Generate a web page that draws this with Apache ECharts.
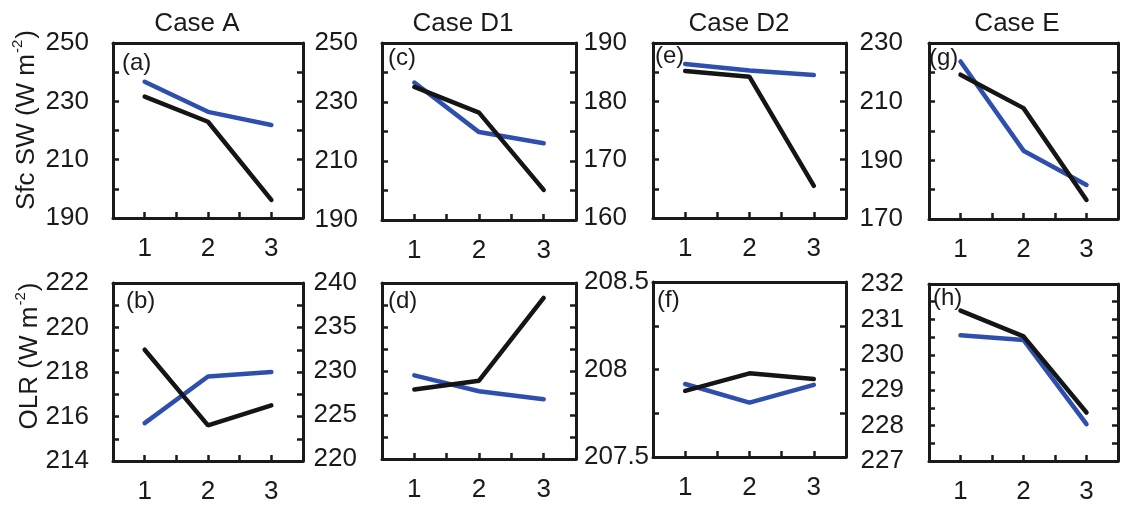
<!DOCTYPE html>
<html>
<head>
<meta charset="utf-8">
<script src="https://cdn.jsdelivr.net/npm/echarts@6/dist/echarts.min.js"></script>
<style>
html,body{margin:0;padding:0;background:#fff;}
#chart{width:1121px;height:505px;}
</style>
</head>
<body>
<div id="chart"></div>
<script>
// ---------- data ----------
const xCats = [1, 2, 3];
const caseTitles = ['Case A', 'Case D1', 'Case D2', 'Case E'];
const panelLabels = ['(a)', '(c)', '(e)', '(g)', '(b)', '(d)', '(f)', '(h)'];
const yTitleTop = 'Sfc SW (W m';
const yTitleBottom = 'OLR (W m';

// Surface SW (top row)
const sfcBlueA  = [236.7, 226.4, 221.9];
const sfcBlackA = [231.6, 223.0, 196.2];
const sfcBlueD1  = [236.6, 219.8, 216.0];
const sfcBlackD1 = [235.1, 226.4, 200.2];
const sfcBlueD2  = [186.4, 185.3, 184.5];
const sfcBlackD2 = [185.2, 184.2, 165.5];
const sfcBlueE  = [223.7, 193.3, 181.6];
const sfcBlackE = [219.2, 207.8, 176.5];

// OLR (bottom row)
const olrBlueA  = [215.7, 217.8, 218.0];
const olrBlackA = [219.0, 215.6, 216.5];
const olrBlueD1  = [229.5, 227.7, 226.8];
const olrBlackD1 = [227.9, 228.9, 238.3];
const olrBlueD2  = [207.917, 207.811, 207.912];
const olrBlackD2 = [207.878, 207.978, 207.946];
const olrBlueE  = [230.55, 230.42, 228.04];
const olrBlackE = [231.25, 230.52, 228.37];

// y-axis ranges: [min, max, tick interval, label step]
const yRangeSfcA  = [190, 250, 10, 20];
const yRangeSfcD1 = [190, 250, 10, 20];
const yRangeSfcD2 = [160, 190, 5, 10];
const yRangeSfcE  = [170, 230, 10, 20];
const yRangeOlrA  = [214, 222, 1, 2];
const yRangeOlrD1 = [220, 240, 2.5, 5];
const yRangeOlrD2 = [207.5, 208.5, 0.25, 0.5];
const yRangeOlrE  = [227, 232, 0.5, 1];

// ---------- layout / style ----------
const FONT = '"Liberation Sans", Arial, sans-serif';
const TXT = '#1a1a1a';
const BLUE = '#2f4fae';
const BLACK = '#151515';

const panels = [
  {g:{left:113, top:43, width:190, height:175}, r:yRangeSfcA,  b:sfcBlueA,  k:sfcBlackA,  lab:panelLabels[0], lx:122, ly:65, m:24, lw:0},
  {g:{left:382, top:43, width:194, height:177}, r:yRangeSfcD1, b:sfcBlueD1, k:sfcBlackD1, lab:panelLabels[1], lx:388, ly:60, m:24, lw:0},
  {g:{left:653, top:43, width:193, height:175}, r:yRangeSfcD2, b:sfcBlueD2, k:sfcBlackD2, lab:panelLabels[2], lx:655, ly:58, m:26, lw:0},
  {g:{left:929, top:43, width:194, height:176}, r:yRangeSfcE,  b:sfcBlueE,  k:sfcBlackE,  lab:panelLabels[3], lx:929, ly:60, m:26, lw:0},
  {g:{left:113, top:283, width:190, height:179}, r:yRangeOlrA,  b:olrBlueA,  k:olrBlackA,  lab:panelLabels[4], lx:126, ly:303, m:24, lw:0},
  {g:{left:382, top:283, width:194, height:176}, r:yRangeOlrD1, b:olrBlueD1, k:olrBlackD1, lab:panelLabels[5], lx:388, ly:303, m:25, lw:0},
  {g:{left:653, top:282, width:193, height:175}, r:yRangeOlrD2, b:olrBlueD2, k:olrBlackD2, lab:panelLabels[6], lx:657, ly:302, m:3, lw:66},
  {g:{left:929, top:284, width:194, height:177}, r:yRangeOlrE,  b:olrBlueE,  k:olrBlackE,  lab:panelLabels[7], lx:933, ly:300, m:25, lw:0}
];

const grids = [], xAxes = [], yAxes = [], series = [], graphics = [];

function fmtNum(v){ return String(Math.round(v * 1000) / 1000); }

panels.forEach((p, i) => {
  grids.push(Object.assign({containLabel:false}, p.g));
  const [ymin, ymax, yint, ystep] = p.r;
  const axisLine = {show:true, onZero:false, lineStyle:{color:TXT, width:3}};
  // bottom x
  xAxes.push({
    type:'value', gridIndex:i, position:'bottom', min:0.5, max:3.5, interval:0.5,
    axisLine, splitLine:{show:false},
    axisTick:{show:true, inside:true, length:6, lineStyle:{color:TXT, width:2.5}},
    axisLabel:{show:true, margin:18, color:TXT, fontSize:26, fontFamily:FONT,
      formatter:(v)=> (Math.abs(v - Math.round(v)) < 1e-6 && xCats.indexOf(Math.round(v)) >= 0) ? String(Math.round(v)) : ''}
  });
  // top x (frame)
  xAxes.push({
    type:'value', gridIndex:i, position:'top', min:0.5, max:3.5, interval:0.5,
    axisLine, splitLine:{show:false}, axisTick:{show:false}, axisLabel:{show:false}
  });
  // left y
  const yLabel = {show:true, margin:p.m, align:'right', color:TXT, fontSize:26, fontFamily:FONT,
    showMinLabel:true, showMaxLabel:true,
    formatter:(v)=>{
      const k = (v - ymin) / ystep;
      if (Math.abs(k - Math.round(k)) > 1e-6) return '';
      return p.lw ? '{l|' + fmtNum(v) + '}' : fmtNum(v);
    }};
  if (p.lw) {
    yLabel.rich = {l:{width:p.lw, align:'left', fontSize:26, fontFamily:FONT, color:TXT}};
  }
  yAxes.push({
    type:'value', gridIndex:i, position:'left', min:ymin, max:ymax, interval:yint,
    axisLine, splitLine:{show:false},
    axisTick:{show:true, inside:true, length:6, lineStyle:{color:TXT, width:2.5}},
    axisLabel:yLabel
  });
  // right y (frame + ticks)
  yAxes.push({
    type:'value', gridIndex:i, position:'right', min:ymin, max:ymax, interval:yint,
    axisLine, splitLine:{show:false},
    axisTick:{show:true, inside:true, length:6, lineStyle:{color:TXT, width:2.5}},
    axisLabel:{show:false}
  });
  series.push({
    type:'line', xAxisIndex:2*i, yAxisIndex:2*i, symbol:'none', silent:true,
    data: xCats.map((x, j) => [x, p.b[j]]),
    lineStyle:{color:BLUE, width:4.5, cap:'round'}, z:3
  });
  series.push({
    type:'line', xAxisIndex:2*i, yAxisIndex:2*i, symbol:'none', silent:true,
    data: xCats.map((x, j) => [x, p.k[j]]),
    lineStyle:{color:BLACK, width:4.5, cap:'round'}, z:4
  });
  graphics.push({
    type:'text', left:p.lx, top:p.ly - 14, z:10,
    style:{text:p.lab, fill:TXT, font:'24px ' + FONT}
  });
});

// case titles
const titleX = [197, 463, 739, 1017];
caseTitles.forEach((t, i) => {
  graphics.push({
    type:'text', x:titleX[i], y:24, z:10,
    style:{text:t, fill:TXT, font:'26px ' + FONT, align:'center', verticalAlign:'middle'}
  });
});

// y-axis titles (rotated, with superscript)
function yTitle(base, cx, cy){
  return {
    type:'text', x:cx, y:cy, rotation:Math.PI/2, z:10,
    style:{
      text:'{n|' + base + '}{s|-2}{n|)}',
      align:'center', verticalAlign:'middle',
      rich:{
        n:{fontSize:26, fontFamily:FONT, fill:TXT, lineHeight:30, verticalAlign:'bottom'},
        s:{fontSize:15, fontFamily:FONT, fill:TXT, lineHeight:30, verticalAlign:'top', padding:[0,1,12,1]}
      }
    }
  };
}
graphics.push(yTitle(yTitleTop, 25, 120));
graphics.push(yTitle(yTitleBottom, 28, 356));

const chart = echarts.init(document.getElementById('chart'), null, {renderer:'canvas'});
chart.setOption({
  animation:false,
  backgroundColor:'#ffffff',
  grid:grids, xAxis:xAxes, yAxis:yAxes, series:series, graphic:graphics
});
</script>
</body>
</html>
